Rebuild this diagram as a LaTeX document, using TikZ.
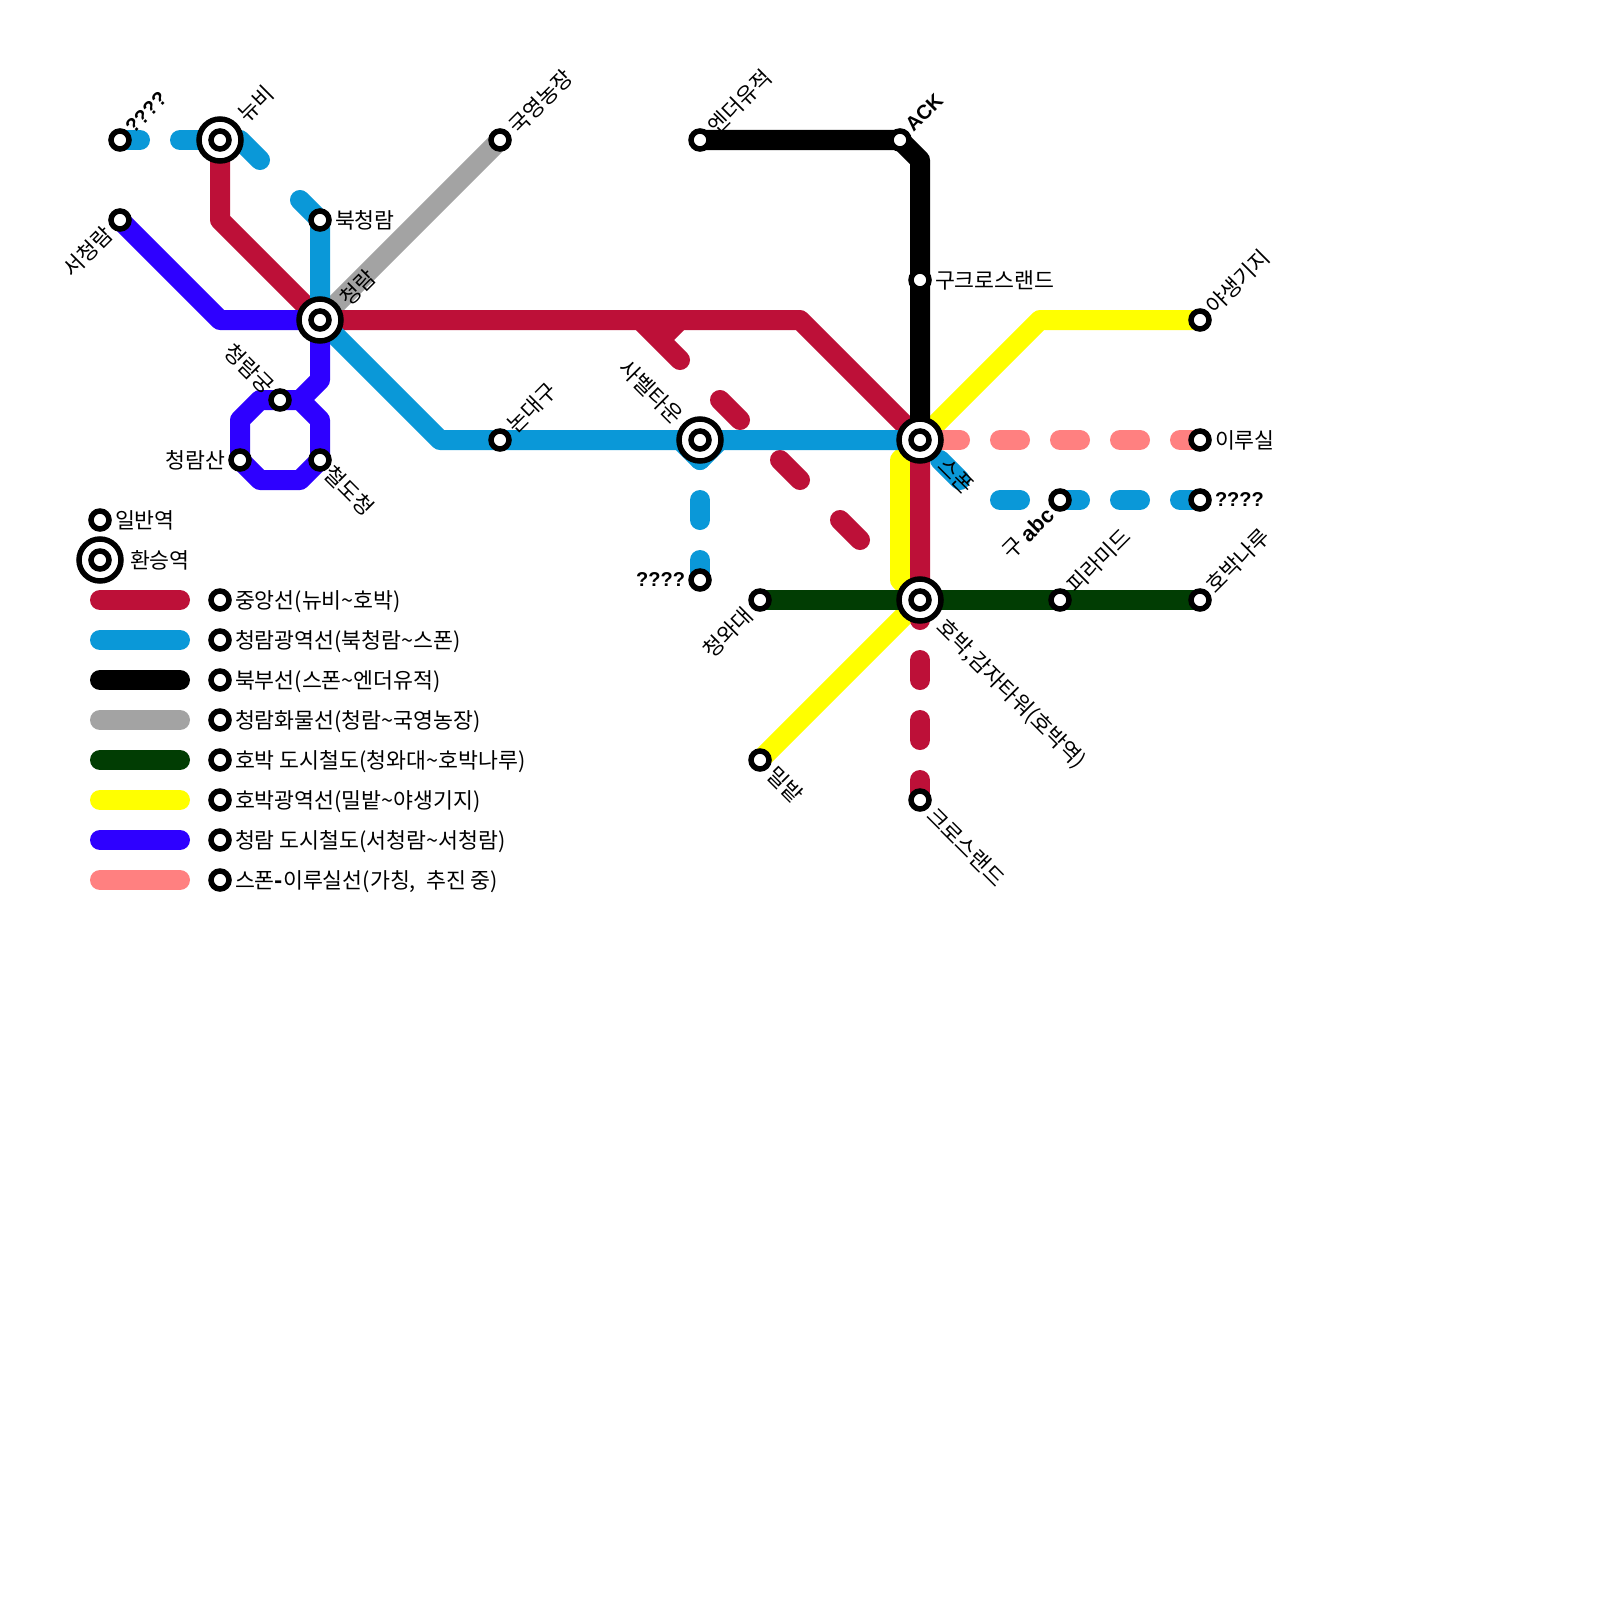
\documentclass[tikz,border=0pt]{standalone}
\usepackage{fontspec}
\setmainfont{Noto Sans CJK KR}
\newfontfamily\latb{Liberation Sans}[BoldFont={Liberation Sans Bold}]
\usetikzlibrary{backgrounds}
\definecolor{cred}{HTML}{BD1038}
\definecolor{cblue}{HTML}{0A98D8}
\definecolor{cgray}{HTML}{A3A3A3}
\definecolor{cgreen}{HTML}{013D03}
\definecolor{cyel}{HTML}{FFFF00}
\definecolor{cpur}{HTML}{2E00FF}
\definecolor{cpink}{HTML}{FF8080}
\tikzset{
  metro/.style={line width=20pt,line join=round,line cap=round},
  metrobutt/.style={line width=20pt,line join=round,line cap=butt},
  dashh/.style={metro,dash pattern=on 20pt off 40pt},
  sta/.style={circle,draw=black,fill=white,line width=5.5pt,minimum size=18pt,inner sep=0pt,outer sep=0pt},
  hub/.style={circle,draw=black,fill=white,line width=5.5pt,minimum size=42pt,inner sep=0pt,outer sep=0pt},
  lab/.style={inner sep=0pt,outer sep=0pt,font=\fontsize{21.65pt}{24pt}\selectfont,text height=18.5pt,text depth=2.5pt,text=black},
  ltn/.style={lab,font=\latb\bfseries\fontsize{20pt}{24pt}\selectfont},
}
\begin{document}
\begin{tikzpicture}[x=1pt,y=-1pt]
\path[use as bounding box] (0,0) rectangle (1600,1600);
% stations
\node[sta] (q1) at (120,140) {};
\node[hub] (nubiH) at (220,140) {}; \node[sta] (nubi) at (220,140) {};
\node[sta] (gukyoung) at (500,140) {};
\node[sta] (bukcr) at (320,220) {};
\node[sta] (seocr) at (120,220) {};
\node[hub] (crH) at (320,320) {}; \node[sta] (cr) at (320,320) {};
\node[sta] (crgung) at (280,400) {};
\node[sta] (crsan) at (240,460) {};
\node[sta] (chul) at (320,460) {};
\node[sta] (non) at (500,440) {};
\node[hub] (sabelH) at (700,440) {}; \node[sta] (sabel) at (700,440) {};
\node[sta] (q2) at (700,580) {};
\node[sta] (ender) at (700,140) {};
\node[sta] (ack) at (900,140) {};
\node[sta] (gucross) at (920,280) {};
\node[hub] (sponH) at (920,440) {}; \node[sta] (spon) at (920,440) {};
\node[hub] (hobakH) at (920,600) {}; \node[sta] (hobak) at (920,600) {};
\node[sta] (cross) at (920,800) {};
\node[sta] (cheong) at (760,600) {};
\node[sta] (pyr) at (1060,600) {};
\node[sta] (hbnr) at (1200,600) {};
\node[sta] (mil) at (760,760) {};
\node[sta] (yasaeng) at (1200,320) {};
\node[sta] (iru) at (1200,440) {};
\node[sta] (q3) at (1200,500) {};
\node[sta] (guabc) at (1060,500) {};
% legend stations
\node[sta] (lgA) at (100,520) {};
\node[hub] (lgBH) at (100,560) {}; \node[sta] (lgB) at (100,560) {};
\foreach \n/\yy in {1/600,2/640,3/680,4/720,5/760,6/800,7/840,8/880}{
  \node[sta] (ls\n) at (220,\yy) {};
}
% lines
\begin{scope}[on background layer]
\fill[white] (0,0) rectangle (1600,1600);
\draw[metro,cyel] (mil.center) -- (hobak.center) -- (900,580) -- (900,460) -- (spon.center) -- (1040,320) -- (yasaeng.center);
\draw[metro,cgray] (cr.center) -- (gukyoung.center);
\draw[metro,cred] (nubi.center) -- (220,220) -- (cr.center) -- (800,320) -- (spon.center) -- (hobak.center);
\draw[metro,cred] (640,320) -- (680,360);
\draw[metrobutt,cred] (680,320) -- (660,340);
\draw[metro,cred] (720,400) -- (740,420);
\draw[metro,cred] (780,460) -- (800,480);
\draw[metro,cred] (840,520) -- (860,540);
\draw[dashh,cred] (hobak.center) -- (cross.center);
\draw[dashh,cblue] (q1.center) -- (nubi.center);
\draw[metro,cblue] (240,140) -- (260,160);
\draw[metro,cblue] (300,200) -- (bukcr.center);
\draw[metro,cblue] (bukcr.center) -- (cr.center) -- (440,440) -- (spon.center);
\draw[metro,cblue] (680,440) -- (700,460) -- (720,440);
\draw[dashh,cblue] (sabel.center) -- (q2.center);
\draw[metro,cblue] (940,460) -- (960,480);
\draw[dashh,cblue] (1000,500) -- (q3.center);
\draw[metro,black] (ender.center) -- (ack.center) -- (920,160) -- (spon.center);
\draw[metro,cgreen] (cheong.center) -- (hbnr.center);
\draw[metro,cpur] (seocr.center) -- (220,320) -- (cr.center) -- (320,380) -- (300,400) -- (260,400) -- (240,420) -- (crsan.center) -- (260,480) -- (300,480) -- (chul.center) -- (320,420) -- (300,400);
\draw[dashh,cpink] (940,440) -- (iru.center);
% legend
\foreach \n/\yy/\cc in {1/600/cred,2/640/cblue,3/680/black,4/720/cgray,5/760/cgreen,6/800/cyel,7/840/cpur,8/880/cpink}{
  \coordinate (la\n) at (100,\yy);
  \coordinate (lb\n) at (180,\yy);
  \draw[metro,\cc] (la\n) -- (lb\n);
}
\end{scope}
% labels
\node[ltn,rotate=45,anchor=west] (t1) at (128,129) {????};
\node[lab,rotate=45,anchor=west] (t2) at (242,118) {뉴비};
\node[lab,rotate=45,anchor=west] (t3) at (513,130) {국영농장};
\node[lab,rotate=45,anchor=west] (t4) at (344,302) {청람};
\node[lab,rotate=45,anchor=west] (t5) at (511,429) {논대구};
\node[lab,rotate=45,anchor=west] (t6) at (712,130) {엔더유적};
\node[ltn,rotate=45,anchor=west] (t7) at (908,127) {ACK};
\node[lab,rotate=45,anchor=west] (t8) at (1210,310) {야생기지};
\node[lab,rotate=45,anchor=west] (t9) at (1071,589) {피라미드};
\node[lab,rotate=45,anchor=west] (t10) at (1210,589) {호박나루};
\node[lab,rotate=45,anchor=east] (t11) at (109,231) {서청람};
\node[lab,rotate=45,anchor=east] (t12) at (749,612) {청와대};
\node[lab,rotate=45,anchor=east] (t13) at (1050,511) {구 {\latb\bfseries abc}};
\node[lab,rotate=-45,anchor=west] (t14) at (328,470) {철도청};
\node[lab,rotate=-45,anchor=west] (t15) at (942,462) {스폰};
\node[lab,rotate=-45,anchor=west] (t16) at (941,623) {호박,감자타워(호박역)};
\node[lab,rotate=-45,anchor=west] (t17) at (931,812) {크로스랜드};
\node[lab,rotate=-45,anchor=west] (t18) at (771,771) {밀밭};
\node[lab,rotate=-45,anchor=east] (t19) at (270,390) {청람궁};
\node[lab,rotate=-45,anchor=east] (t20) at (679,420) {사벨타운};
\node[lab,anchor=west] (t21) at (335,220) {북청람};
\node[lab,anchor=west] (t22) at (935,280) {구크로스랜드};
\node[lab,anchor=west] (t23) at (1215,440) {이루실};
\node[ltn,anchor=west] (t24) at (1215,498) {????};
\node[lab,anchor=west] (t25) at (115,520) {일반역};
\node[lab,anchor=west] (t26) at (130,560) {환승역};
\node[lab,anchor=east] (t27) at (225,460) {청람산};
\node[ltn,anchor=east] (t28) at (685,578) {????};
\node[lab,anchor=west] (l1) at (235,600) {중앙선(뉴비\textasciitilde 호박)};
\node[lab,anchor=west] (l2) at (235,640) {청람광역선(북청람\textasciitilde 스폰)};
\node[lab,anchor=west] (l3) at (235,680) {북부선(스폰\textasciitilde 엔더유적)};
\node[lab,anchor=west] (l4) at (235,720) {청람화물선(청람\textasciitilde 국영농장)};
\node[lab,anchor=west] (l5) at (235,760) {호박 도시철도(청와대\textasciitilde 호박나루)};
\node[lab,anchor=west] (l6) at (235,800) {호박광역선(밀밭\textasciitilde 야생기지)};
\node[lab,anchor=west] (l7) at (235,840) {청람 도시철도(서청람\textasciitilde 서청람)};
\node[lab,anchor=west] (l8) at (235,880) {스폰{\bfseries -}이루실선(가칭,\hspace{0.25em} 추진 중)};
\end{tikzpicture}
\end{document}
